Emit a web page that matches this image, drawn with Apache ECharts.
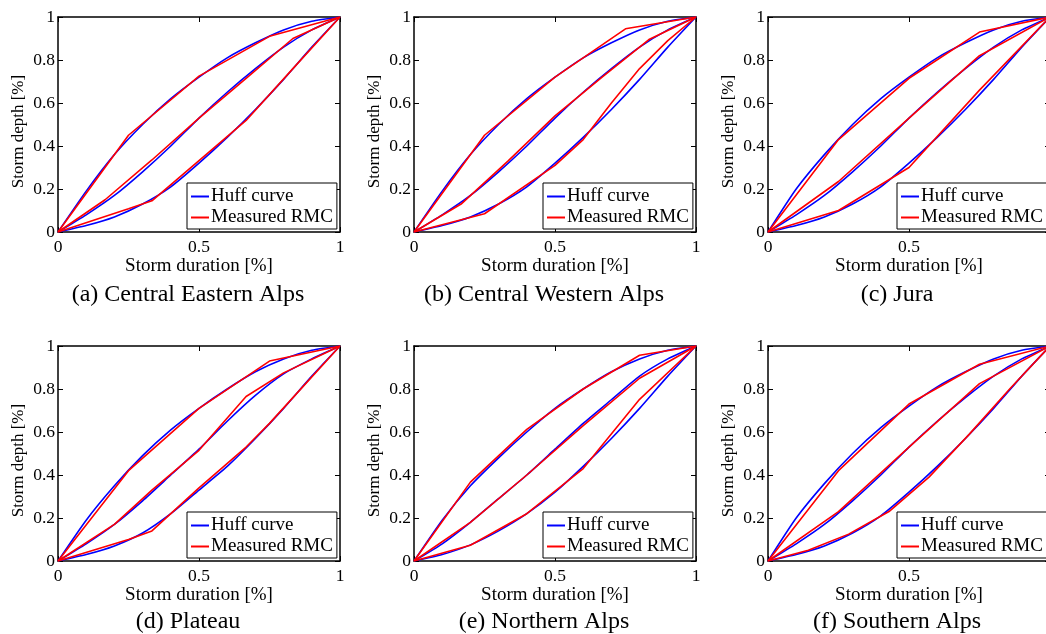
<!DOCTYPE html>
<html>
<head>
<meta charset="utf-8">
<script src="https://cdn.jsdelivr.net/npm/echarts@6/dist/echarts.min.js"></script>
<style>
html, body { margin: 0; padding: 0; background: #fff; }
#container { width: 1046px; height: 634px; }
</style>
</head>
<body>
<div id="container"></div>
<script>
var dom = document.getElementById("container");
var myChart = echarts.init(dom);

// captions of the six panels
var captions = ['(a) Central Eastern Alps', '(b) Central Western Alps', '(c) Jura',
                '(d) Plateau', '(e) Northern Alps', '(f) Southern Alps'];

// x positions of the Huff curve points
var huffX = [0, 0.1, 0.2, 0.3, 0.4, 0.5, 0.6, 0.7, 0.8, 0.9, 1];

// Huff curves (upper, middle, lower) per region
var huffA = [[0, 0.19, 0.36, 0.50, 0.62, 0.72, 0.81, 0.88, 0.94, 0.98, 1],
             [0, 0.08, 0.17, 0.28, 0.40, 0.53, 0.65, 0.76, 0.86, 0.94, 1],
             [0, 0.03, 0.07, 0.13, 0.21, 0.32, 0.44, 0.57, 0.71, 0.86, 1]];
var huffB = [[0, 0.19, 0.36, 0.50, 0.62, 0.72, 0.81, 0.88, 0.94, 0.98, 1],
             [0, 0.08, 0.17, 0.28, 0.40, 0.53, 0.65, 0.76, 0.86, 0.94, 1],
             [0, 0.03, 0.07, 0.13, 0.21, 0.32, 0.44, 0.57, 0.71, 0.86, 1]];
var huffC = [[0, 0.20, 0.36, 0.50, 0.62, 0.72, 0.81, 0.88, 0.94, 0.98, 1],
             [0, 0.08, 0.17, 0.28, 0.40, 0.53, 0.65, 0.76, 0.86, 0.94, 1],
             [0, 0.03, 0.07, 0.13, 0.21, 0.32, 0.44, 0.57, 0.71, 0.86, 1]];
var huffD = [[0, 0.19, 0.35, 0.49, 0.61, 0.71, 0.80, 0.88, 0.94, 0.98, 1],
             [0, 0.08, 0.17, 0.28, 0.40, 0.52, 0.65, 0.77, 0.87, 0.94, 1],
             [0, 0.03, 0.07, 0.13, 0.22, 0.33, 0.44, 0.57, 0.71, 0.86, 1]];
var huffE = [[0, 0.19, 0.35, 0.48, 0.60, 0.71, 0.80, 0.88, 0.94, 0.98, 1],
             [0, 0.08, 0.18, 0.29, 0.40, 0.52, 0.64, 0.75, 0.86, 0.94, 1],
             [0, 0.03, 0.075, 0.14, 0.22, 0.32, 0.44, 0.57, 0.71, 0.86, 1]];
var huffF = [[0, 0.20, 0.36, 0.50, 0.62, 0.72, 0.81, 0.88, 0.94, 0.98, 1],
             [0, 0.08, 0.17, 0.28, 0.40, 0.53, 0.65, 0.76, 0.86, 0.94, 1],
             [0, 0.03, 0.07, 0.13, 0.21, 0.32, 0.44, 0.57, 0.71, 0.86, 1]];

// measured RMC (upper, middle, lower) per region, as [duration, depth]
var rmcA = [[[0, 0], [0.25, 0.45], [0.5, 0.725], [0.75, 0.91], [1, 1]],
            [[0, 0], [0.167, 0.15], [0.333, 0.335], [0.5, 0.53], [0.667, 0.715], [0.833, 0.9], [1, 1]],
            [[0, 0], [0.25, 0.108], [0.333, 0.145], [0.5, 0.332], [0.667, 0.519], [0.833, 0.76], [1, 1]]];
var rmcB = [[[0, 0], [0.25, 0.45], [0.5, 0.72], [0.75, 0.945], [1, 1]],
            [[0, 0], [0.167, 0.13], [0.333, 0.33], [0.5, 0.54], [0.667, 0.72], [0.833, 0.895], [1, 1]],
            [[0, 0], [0.25, 0.085], [0.5, 0.31], [0.6, 0.43], [0.7, 0.6], [0.8, 0.76], [0.9, 0.89], [1, 1]]];
var rmcC = [[[0, 0], [0.25, 0.43], [0.5, 0.715], [0.75, 0.93], [1, 1]],
            [[0, 0], [0.25, 0.235], [0.5, 0.53], [0.75, 0.82], [1, 1]],
            [[0, 0], [0.25, 0.1], [0.5, 0.3], [0.75, 0.66], [1, 1]]];
var rmcD = [[[0, 0], [0.25, 0.42], [0.5, 0.71], [0.75, 0.93], [1, 1]],
            [[0, 0], [0.2, 0.17], [0.333, 0.33], [0.5, 0.515], [0.667, 0.765], [0.8, 0.875], [1, 1]],
            [[0, 0], [0.25, 0.1], [0.333, 0.14], [0.5, 0.34], [0.667, 0.53], [0.75, 0.64], [0.833, 0.76], [1, 1]]];
var rmcE = [[[0, 0], [0.2, 0.367], [0.4, 0.612], [0.6, 0.8], [0.8, 0.957], [1, 1]],
            [[0, 0], [0.2, 0.18], [0.4, 0.4], [0.6, 0.63], [0.8, 0.85], [1, 1]],
            [[0, 0], [0.2, 0.073], [0.4, 0.22], [0.6, 0.43], [0.8, 0.752], [1, 1]]];
var rmcF = [[[0, 0], [0.25, 0.42], [0.5, 0.73], [0.75, 0.915], [1, 1]],
            [[0, 0], [0.25, 0.23], [0.5, 0.53], [0.75, 0.825], [1, 1]],
            [[0, 0], [0.143, 0.05], [0.286, 0.125], [0.429, 0.23], [0.571, 0.39], [0.714, 0.59], [0.857, 0.8], [1, 1]]];

var huffAll = [huffA, huffB, huffC, huffD, huffE, huffF];
var rmcAll = [rmcA, rmcB, rmcC, rmcD, rmcE, rmcF];

// layout
var font = 'Liberation Serif';
var colLeft = [58, 414, 768];
var colCaption = [188, 544, 897];
var rowTop = [17, 346];
var rowCaption = [295, 622];
var plotW = 282, plotH = 215;

var grids = [], xAxes = [], yAxes = [], series = [], legends = [], texts = [];

function axisBase(gi, pos) {
    return {
        type: 'value', gridIndex: gi, position: pos, min: 0, max: 1,
        splitLine: {show: false},
        axisLine: {show: true, onZero: false, lineStyle: {color: '#000', width: 1.5}},
        axisTick: {show: true, inside: true, length: 5, lineStyle: {color: '#000', width: 1}}
    };
}

for (var i = 0; i < 6; i++) {
    var col = i % 3, row = Math.floor(i / 3);
    grids.push({
        left: colLeft[col], top: rowTop[row], width: plotW, height: plotH,
        outerBoundsMode: 'none'
    });

    var xb = axisBase(i, 'bottom');
    xb.interval = 0.5;
    xb.name = 'Storm duration [%]';
    xb.nameLocation = 'middle';
    xb.nameGap = 19;
    xb.nameTextStyle = {fontFamily: font, fontSize: 19, color: '#000'};
    xb.axisLabel = {fontFamily: font, fontSize: 17.5, color: '#000', margin: 6};
    var xt = axisBase(i, 'top');
    xt.interval = 0.5;
    xt.axisLabel = {show: false};
    xAxes.push(xb, xt);

    var yl = axisBase(i, 'left');
    yl.interval = 0.2;
    yl.name = 'Storm depth [%]';
    yl.nameLocation = 'middle';
    yl.nameGap = 31;
    yl.nameTextStyle = {fontFamily: font, fontSize: 17, color: '#000', padding: [0, 14, 0, 0]};
    yl.axisLabel = {fontFamily: font, fontSize: 17.5, color: '#000', margin: 3};
    var yr = axisBase(i, 'right');
    yr.interval = 0.2;
    yr.axisLabel = {show: false};
    yAxes.push(yl, yr);

    for (var k = 0; k < 3; k++) {
        series.push({
            name: 'Huff curve', type: 'line', xAxisIndex: 2 * i, yAxisIndex: 2 * i,
            symbol: 'none', smooth: 0.2, z: 2,
            lineStyle: {color: '#0000ff', width: 1.6},
            itemStyle: {color: '#0000ff'},
            data: huffX.map(function (x, j) { return [x, huffAll[i][k][j]]; })
        });
    }
    for (var k = 0; k < 3; k++) {
        series.push({
            name: 'Measured RMC', type: 'line', xAxisIndex: 2 * i, yAxisIndex: 2 * i,
            symbol: 'none', z: 3,
            lineStyle: {color: '#ff0000', width: 1.6},
            itemStyle: {color: '#ff0000'},
            data: rmcAll[i][k]
        });
    }

    legends.push({
        left: colLeft[col] + 129, top: rowTop[row] + 166,
        orient: 'vertical', selectedMode: false,
        backgroundColor: '#fff', borderColor: '#000', borderWidth: 1,
        padding: [4, 4, 2, 4], itemGap: 2, itemWidth: 18, itemHeight: 2,
        icon: 'rect',
        textStyle: {fontFamily: font, fontSize: 19, lineHeight: 19, color: '#000', padding: [0, 0, 0, -3]},
        data: ['Huff curve', 'Measured RMC']
    });

    texts.push({
        type: 'text',
        style: {
            text: captions[i], x: colCaption[col], y: rowCaption[row],
            textAlign: 'center', textVerticalAlign: 'middle',
            font: '24px "Liberation Serif"', fill: '#000'
        }
    });
}

var option = {
    animation: false,
    backgroundColor: '#fff',
    grid: grids,
    xAxis: xAxes,
    yAxis: yAxes,
    legend: legends,
    graphic: texts,
    series: series
};

myChart.setOption(option, true);
</script>
</body>
</html>
